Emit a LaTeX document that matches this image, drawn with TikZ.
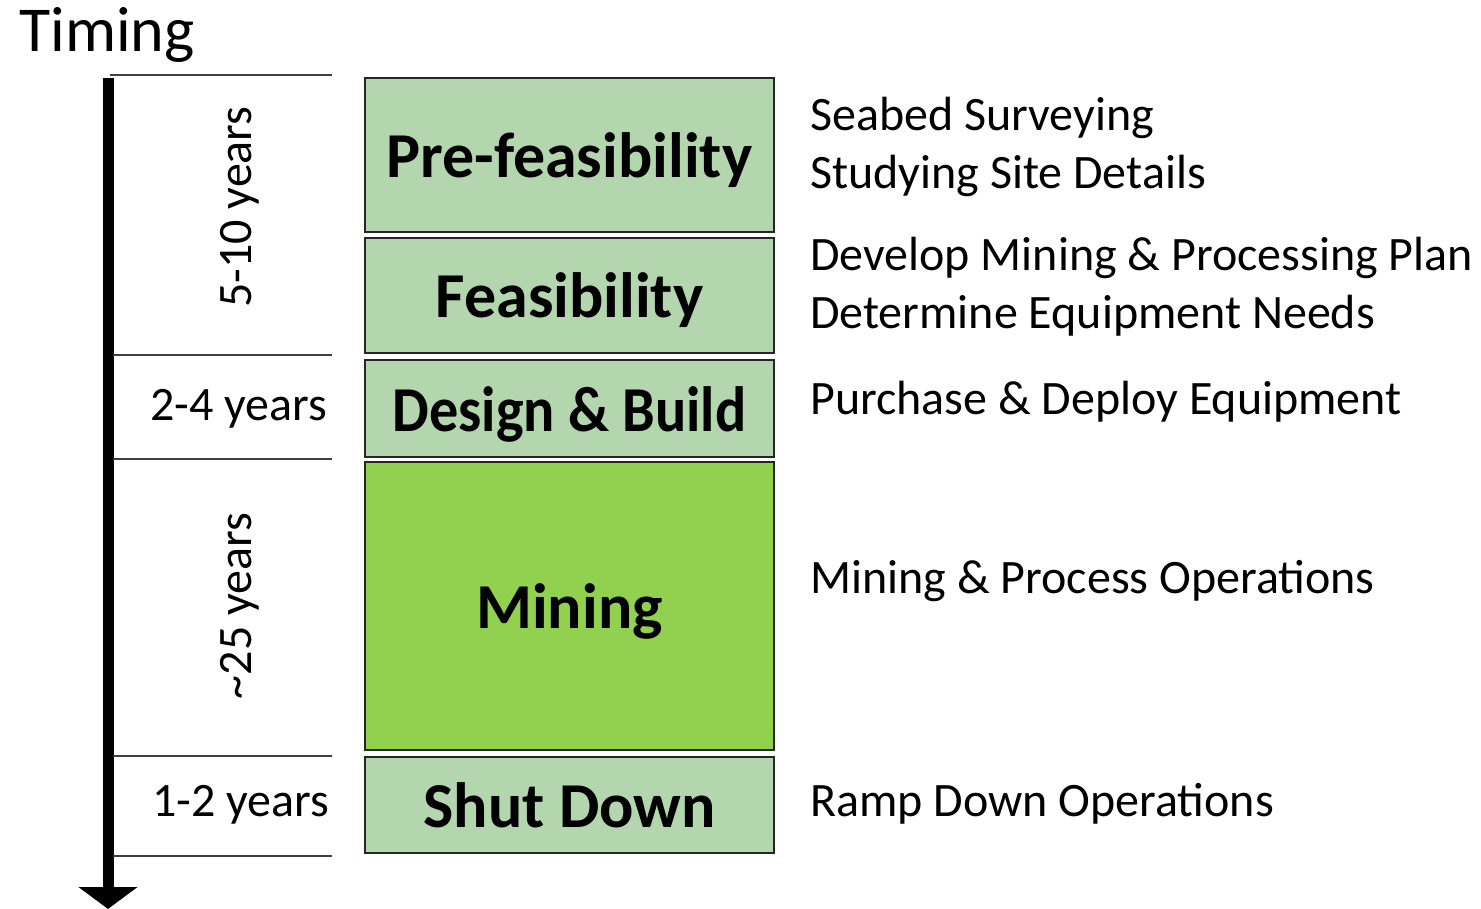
\documentclass[tikz,border=0pt]{standalone}
\usepackage{fontspec}
\setmainfont{Carlito}
\usetikzlibrary{arrows.meta}
\definecolor{phaselight}{HTML}{B4D6AE}
\definecolor{phasemain}{HTML}{92D050}
\definecolor{ruleline}{HTML}{404040}
\begin{document}
\begin{tikzpicture}[x=1pt,y=-1pt,
  phase/.style={draw=black!85, line width=2pt, fill=phaselight, minimum width=409pt,
    inner sep=0pt, text height=45pt, text depth=0pt,
    font=\fontsize{64}{66}\selectfont\bfseries},
  divider/.style={ruleline, line width=1.5pt},
  span/.style={font=\fontsize{48}{52}\selectfont, inner sep=0pt},
  task/.style={font=\fontsize{48}{52}\selectfont, inner sep=0pt, anchor=base west},
  timeline/.style={line width=11pt, -{Triangle[width=58pt,length=22pt]}}]
\useasboundingbox (0,0) rectangle (1481,909);

% title
\node[font=\fontsize{64}{66}\selectfont, inner sep=0pt, anchor=base west] (title) at (19,52) {Timing};

% time axis
\coordinate (axtop) at (108,78);
\coordinate (axend) at (108,909);
\draw[timeline] (axtop) -- (axend);

% period dividers
\foreach \yy/\xa in {75/110,355/113,459/113,756/113,856/113}
  \draw[divider] (\xa,\yy) -- (332,\yy);

% period lengths
\node[span, rotate=90] (p1) at (240,207) {5-10 years};
\node[span, anchor=base] (p2) at (239,420) {2-4 years};
\node[span, rotate=90] (p3) at (240,606) {\textasciitilde25 years};
\node[span, anchor=base] (p4) at (241,816) {1-2 years};

% project phases
\node[phase, minimum height=154pt] (pre) at (569.5,155) {Pre-feasibility};
\node[phase, minimum height=115pt] (feas) at (569.5,295.5) {Feasibility};
\node[phase, minimum height=97pt] (build) at (569.5,408.5) {\scalebox{0.91}[1]{Design \& Build}};
\node[phase, minimum height=288pt, fill=phasemain] (mine) at (569.5,606) {Mining};
\node[phase, minimum height=96pt] (shut) at (569.5,805) {Shut Down};

% activities in each phase
\node[task] (t1) at (810,131) {Seabed Surveying};
\node[task] (t2) at (810,189) {Studying Site Details};
\node[task] (t3) at (810,271) {Develop Mining \& Processing Plan};
\node[task] (t4) at (810,329) {Determine Equipment Needs};
\node[task] (t5) at (810,414) {Purchase \& Deploy Equipment};
\node[task] (t6) at (810,593) {Mining \& Process Operations};
\node[task] (t7) at (810,816) {Ramp Down Operations};
\end{tikzpicture}
\end{document}
